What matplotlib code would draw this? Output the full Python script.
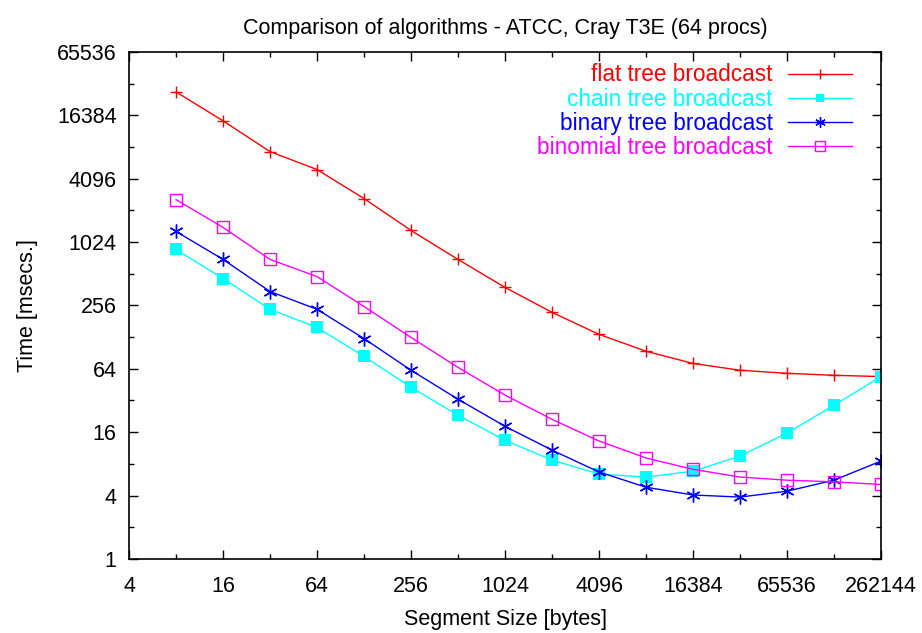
import numpy as np
import matplotlib
matplotlib.use('Agg')
import matplotlib.pyplot as plt
from matplotlib.ticker import FixedLocator, FixedFormatter, NullFormatter

plt.rcParams['font.family'] = ['Liberation Sans', 'DejaVu Sans']

# ============================== DATA ==============================
seg_sizes = [8, 16, 32, 64, 128, 256, 512, 1024, 2048, 4096,
             8192, 16384, 32768, 65536, 131072, 262144]

flat_tree = [27300, 14500, 7400, 5000, 2650, 1320, 700, 380, 220, 136,
             94, 72, 62, 58, 55.5, 54]
chain_tree = [870, 461, 235, 158, 84, 42.7, 23.2, 13.4, 8.7, 6.4,
              6.0, 6.8, 9.5, 15.7, 28.8, 54]
binary_tree = [1290, 700, 347, 235, 124, 62, 32.9, 18.2, 10.8, 6.7,
               4.8, 4.05, 3.87, 4.4, 5.6, 8.5]
binomial_tree = [2590, 1410, 700, 481, 250, 127, 66, 36, 21.2, 13.2,
                 9.1, 7.1, 6.0, 5.6, 5.4, 5.1]

x_ticks = [4, 16, 64, 256, 1024, 4096, 16384, 65536, 262144]
y_ticks = [1, 4, 16, 64, 256, 1024, 4096, 16384, 65536]

# ============================== FIGURE ==============================
fig = plt.figure(figsize=(9.22, 6.33), dpi=100)
ax = fig.add_axes([0.140, 0.117, 0.8155, 0.801])

ax.plot(seg_sizes, flat_tree, color='#ff0000', lw=1, marker='+', ms=9, mew=1,
        label='flat tree broadcast')
ax.plot(seg_sizes, chain_tree, color='#00ffff', lw=1, marker='s', ms=8,
        mew=0, label='chain tree broadcast')
ax.plot(seg_sizes, binary_tree, color='#0000ff', lw=1, marker=(6, 2, 0), ms=10,
        mew=1, label='binary tree broadcast')
ax.plot(seg_sizes, binomial_tree, color='#ff00ff', lw=1, marker='s', ms=9,
        mfc='none', mew=1, label='binomial tree broadcast')

ax.set_xscale('log', base=2)
ax.set_yscale('log', base=2)
ax.set_xlim(4, 262144)
ax.set_ylim(1, 65536)

ax.xaxis.set_major_locator(FixedLocator(x_ticks))
ax.xaxis.set_major_formatter(FixedFormatter([str(v) for v in x_ticks]))
ax.xaxis.set_minor_locator(FixedLocator([2 ** k for k in range(3, 18, 2)]))
ax.xaxis.set_minor_formatter(NullFormatter())
ax.yaxis.set_major_locator(FixedLocator(y_ticks))
ax.yaxis.set_major_formatter(FixedFormatter([str(v) for v in y_ticks]))
ax.yaxis.set_minor_locator(FixedLocator([2 ** k for k in range(1, 16, 2)]))
ax.yaxis.set_minor_formatter(NullFormatter())

ax.tick_params(which='both', direction='in', top=True, right=True,
               labelsize=15.5, width=1)
ax.tick_params(which='major', length=6.5)
ax.tick_params(which='minor', length=3.5)
ax.tick_params(axis='x', which='major', pad=12)
ax.tick_params(axis='y', which='major', pad=9)
for s in ax.spines.values():
    s.set_linewidth(1.2)

ax.set_title('Comparison of algorithms - ATCC, Cray T3E (64 procs)',
             fontsize=15.5, pad=13)
ax.set_xlabel('Segment Size [bytes]', fontsize=15.5, labelpad=9)
ax.set_ylabel('Time [msecs.]', fontsize=15.5, labelpad=14)

# legend: text right-aligned, sample line on the right (gnuplot style)
leg = ax.legend(loc='upper right', bbox_to_anchor=(0.973, 0.995), frameon=False,
                markerfirst=False, fontsize=16.3, handlelength=2.8,
                handletextpad=0.7, labelspacing=0.045, labelcolor='linecolor',
                markerscale=0.75, borderaxespad=0)

fig.savefig('out.png', dpi=100)
